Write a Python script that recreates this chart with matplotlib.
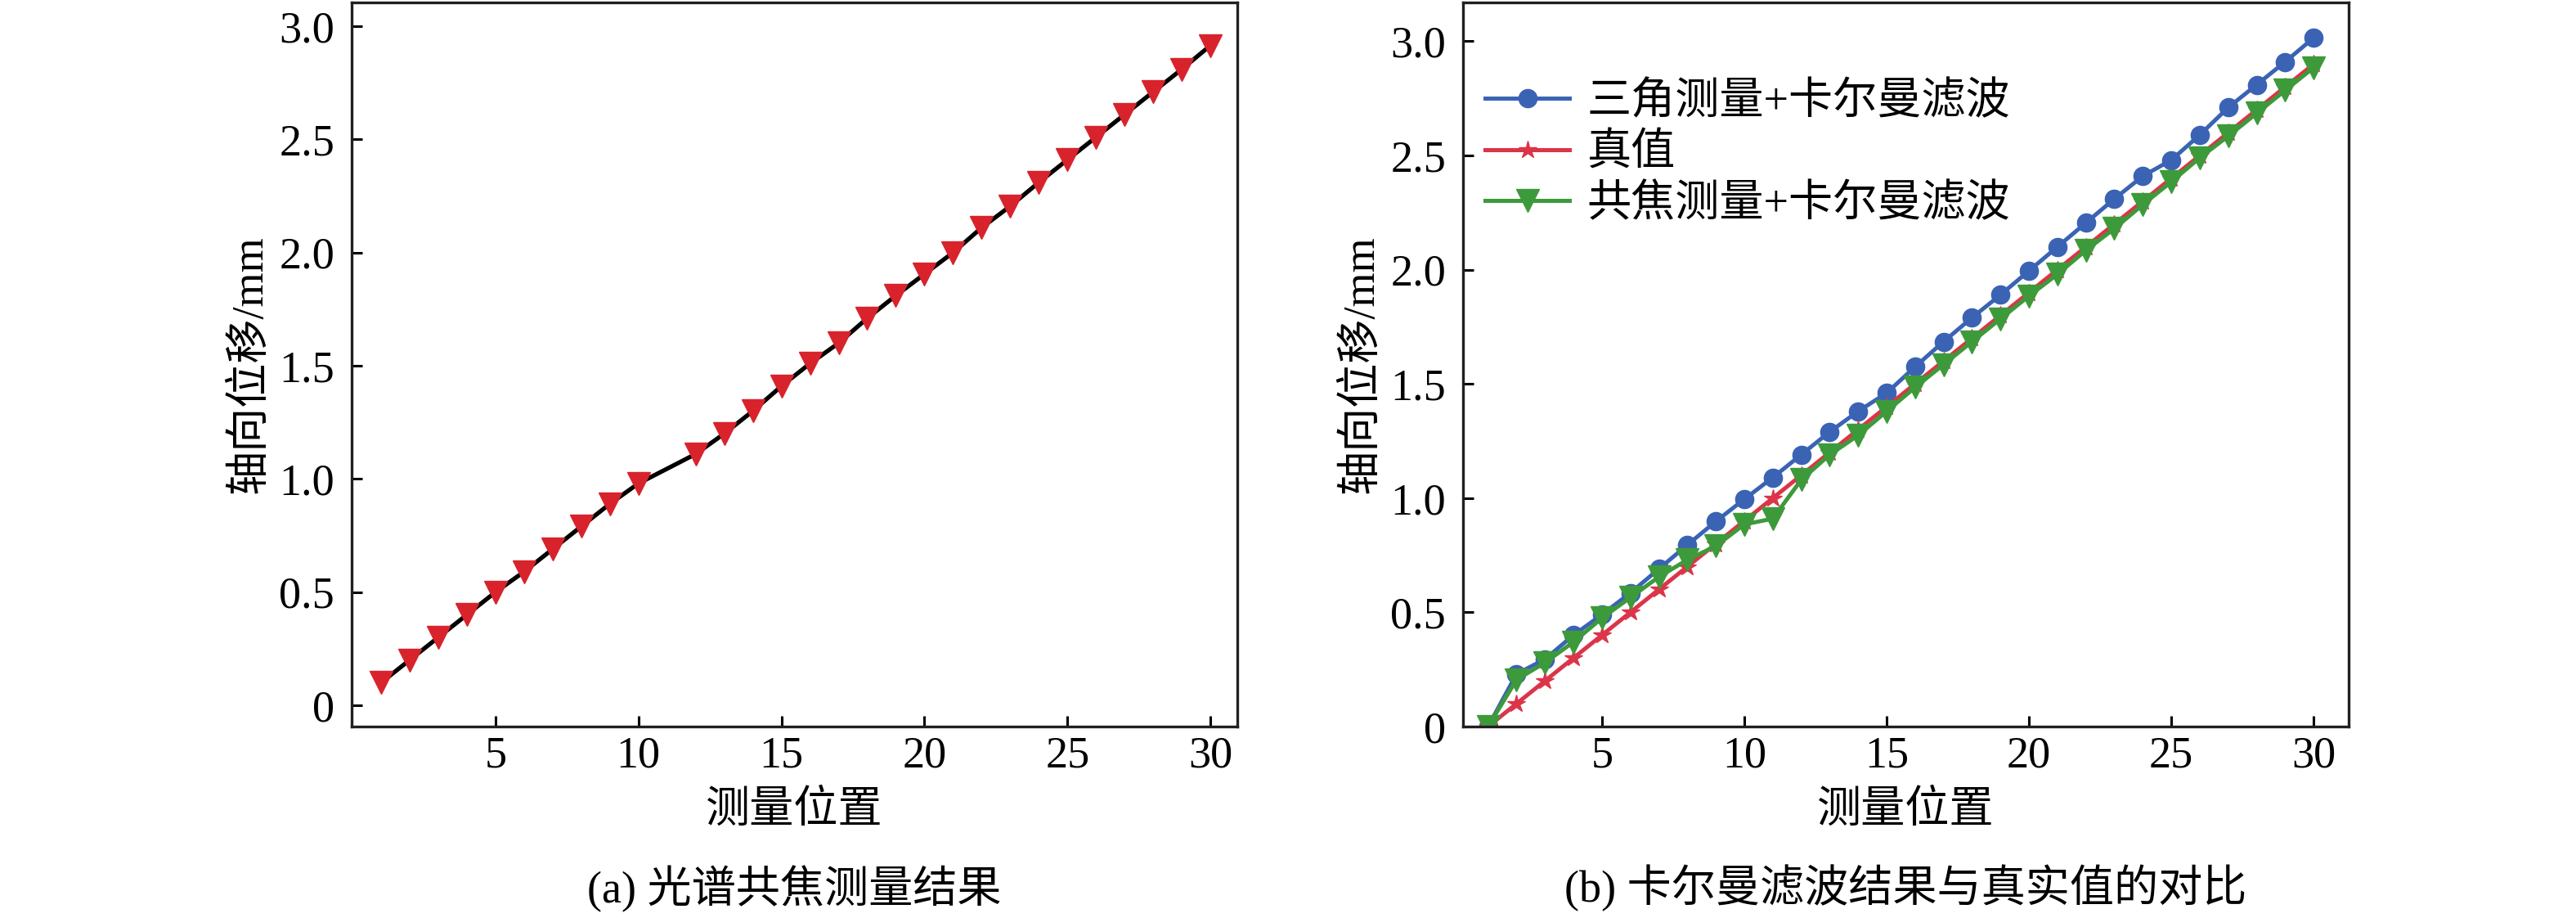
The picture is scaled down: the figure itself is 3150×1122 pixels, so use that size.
import matplotlib
matplotlib.use("Agg")
import matplotlib.pyplot as plt

plt.rcParams['font.family'] = ['Liberation Serif', 'Noto Sans CJK SC', 'DejaVu Sans']
plt.rcParams['axes.unicode_minus'] = False

# (a) 光谱共焦测量结果 -- 第11个位置没有点
pos_a = [1, 2, 3, 4, 5, 6, 7, 8, 9, 10, 12, 13, 14, 15, 16, 17, 18, 19, 20,
         21, 22, 23, 24, 25, 26, 27, 28, 29, 30]
disp_a = [0.10, 0.20, 0.30, 0.40, 0.50, 0.59, 0.69, 0.79, 0.89, 0.98, 1.11,
          1.20, 1.30, 1.41, 1.51, 1.60, 1.71, 1.81, 1.905, 2.00, 2.11, 2.205,
          2.31, 2.41, 2.51, 2.61, 2.71, 2.81, 2.915]

# (b) 卡尔曼滤波结果与真实值的对比
pos_b = list(range(1, 31))
tri_kf = [0.0, 0.23, 0.295, 0.40, 0.49, 0.585, 0.69, 0.795, 0.898, 0.995,
          1.09, 1.19, 1.29, 1.38, 1.46, 1.575, 1.685, 1.79, 1.89, 1.995,
          2.10, 2.205, 2.31, 2.41, 2.48, 2.59, 2.71, 2.81, 2.91, 3.015]
truth = [0.0, 0.1, 0.2, 0.3, 0.4, 0.5, 0.6, 0.7, 0.8, 0.9, 1.0, 1.1, 1.2,
         1.3, 1.4, 1.5, 1.6, 1.7, 1.8, 1.9, 2.0, 2.1, 2.2, 2.3, 2.4, 2.5,
         2.6, 2.7, 2.8, 2.9]
conf_kf = [0.0, 0.205, 0.28, 0.37, 0.475, 0.565, 0.655, 0.73, 0.79, 0.885,
           0.91, 1.08, 1.19, 1.275, 1.38, 1.485, 1.585, 1.685, 1.785, 1.885,
           1.98, 2.085, 2.18, 2.285, 2.385, 2.49, 2.585, 2.685, 2.785, 2.885]

FS = 39
W, H = 3150, 1122
fig = plt.figure(figsize=(W / 100, H / 100), dpi=100)

ax1 = fig.add_axes([430 / W, (H - 888) / H, 1083 / W, 885 / H])
ax2 = fig.add_axes([1789 / W, (H - 888) / H, 1083 / W, 885 / H])

ax1.plot(pos_a, disp_a, color='black', lw=3.8, marker='v', ms=19.5,
         mfc='#d8232c', mec='#d8232c')
ax1.set_xlim(-0.03, 30.94)
ax1.set_ylim(-0.094, 3.105)
ax1.set_yticks([0, 0.5, 1.0, 1.5, 2.0, 2.5, 3.0])
ax1.set_yticklabels(['0', '0.5', '1.0', '1.5', '2.0', '2.5', '3.0'])

ax2.plot(pos_b, tri_kf, color='#3a63b4', lw=3.6, marker='o', ms=16,
         label='三角测量+卡尔曼滤波')
ax2.plot(pos_b, truth, color='#dc3448', lw=3.6, marker='*', ms=16,
         label='真值')
ax2.plot(pos_b, conf_kf, color='#3d9a3b', lw=3.6, marker='v', ms=19.5,
         label='共焦测量+卡尔曼滤波')
ax2.set_xlim(0.12, 31.23)
ax2.set_ylim(0, 3.17)
ax2.set_yticks([0, 0.5, 1.0, 1.5, 2.0, 2.5, 3.0])
ax2.set_yticklabels(['0', '0.5', '1.0', '1.5', '2.0', '2.5', '3.0'])
ax2.legend(loc='upper left', bbox_to_anchor=(0, 0.92), frameon=False,
           fontsize=FS, handlelength=1.9, handletextpad=0.4,
           labelspacing=0.22, borderaxespad=0.3, borderpad=0.2)

for ax in (ax1, ax2):
    ax.set_xticks([5, 10, 15, 20, 25, 30])
    ax.tick_params(direction='in', length=9.5, width=2.2, labelsize=FS)
    ax.tick_params(axis='x', pad=8)
    ax.tick_params(axis='y', pad=15)
    for sp in ax.spines.values():
        sp.set_linewidth(2.4)
        sp.set_color('#231f20')
    ax.set_xlabel('测量位置', fontsize=FS, labelpad=12)
    ax.set_ylabel('轴向位移/mm', fontsize=FS, labelpad=7)

fig.text(971 / W, 1 - 1086 / H, '(a) 光谱共焦测量结果', fontsize=FS,
         ha='center', va='center')
fig.text(2330 / W, 1 - 1086 / H, '(b) 卡尔曼滤波结果与真实值的对比', fontsize=FS,
         ha='center', va='center')

fig.savefig('out.png', dpi=100)
